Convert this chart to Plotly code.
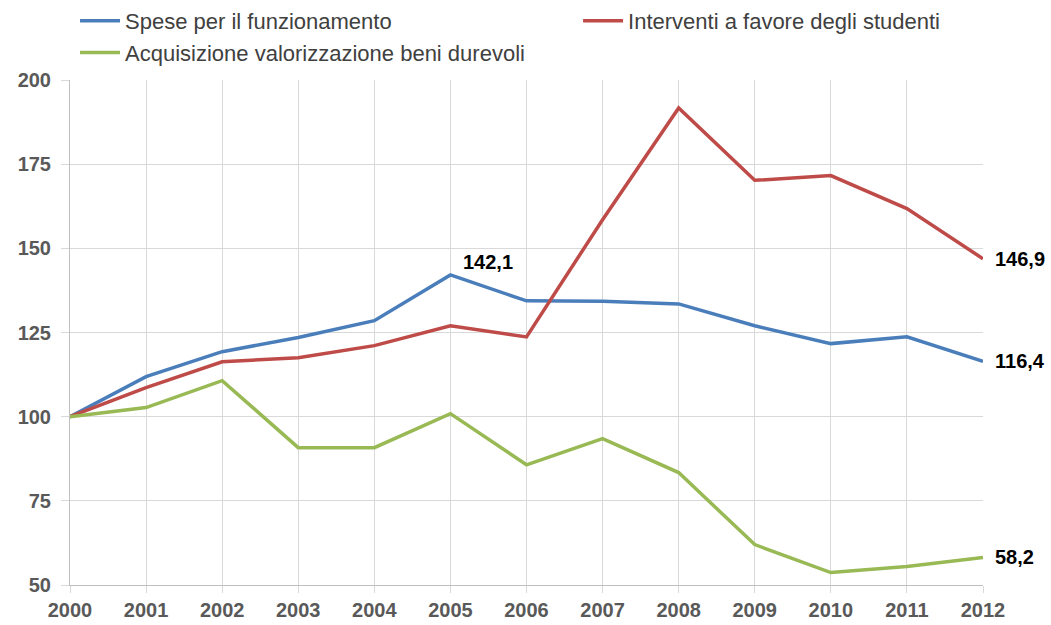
import plotly.graph_objects as go

years = list(range(2000, 2013))
spese = [100, 111.9, 119.3, 123.5, 128.5, 142.1, 134.4, 134.3, 133.5, 127.0, 121.7, 123.7, 116.4]
interventi = [100, 108.6, 116.3, 117.5, 121.1, 127.0, 123.7, 158.5, 191.7, 170.2, 171.6, 161.8, 146.9]
acquisizione = [100, 102.7, 110.7, 90.8, 90.8, 100.9, 85.7, 93.5, 83.4, 62.0, 53.7, 55.5, 58.2]
names = ["Spese per il funzionamento", "Interventi a favore degli studenti",
         "Acquisizione valorizzazione beni durevoli"]
colors = ["#4A7EBB", "#BE4B48", "#98B954"]
legend_ids = ["legend", "legend2", "legend"]
y_ticks = [50, 75, 100, 125, 150, 175, 200]

# which points get a value label: (series index, point index, xshift, yshift)
label_points = [(0, 5, 11, 13), (0, 12, 10, 0), (1, 12, 10, 0), (2, 12, 10, 0)]


def fmt(v):
    return f"{v:.1f}".replace(".", ",")


all_series = [spese, interventi, acquisizione]

fig = go.Figure()
for vals, name, col, lg in zip(all_series, names, colors, legend_ids):
    fig.add_trace(go.Scatter(
        x=years, y=vals, name=name, mode="lines",
        line=dict(color=col, width=3.5),
        cliponaxis=False, legend=lg,
    ))

for s, i, xs, ys in label_points:
    fig.add_annotation(
        x=years[i], y=all_series[s][i], text=fmt(all_series[s][i]),
        showarrow=False, xanchor="left", yanchor="middle", xshift=xs, yshift=ys,
        font=dict(family="Liberation Sans, Arial, sans-serif", size=20, color="#000000", weight="bold"),
    )

tickfont = dict(family="Liberation Sans, Arial, sans-serif", size=20, color="#595959", weight="bold")
legfont = dict(size=22, color="#404040", family="Liberation Sans, Arial, sans-serif")

fig.update_layout(
    width=1051, height=625,
    margin=dict(l=70, r=68, t=80, b=40, autoexpand=False),
    paper_bgcolor="white", plot_bgcolor="white",
    font=dict(family="Liberation Sans, Arial, sans-serif", size=20, color="#404040"),
    legend=dict(orientation="v", x=0.0055, xanchor="left", y=1.0, yanchor="top", yref="container",
                font=legfont, itemwidth=40, tracegroupgap=0, bgcolor="rgba(0,0,0,0)"),
    legend2=dict(orientation="v", x=0.5565, xanchor="left", y=1.0, yanchor="top", yref="container",
                 font=legfont, itemwidth=40, tracegroupgap=0, bgcolor="rgba(0,0,0,0)"),
    xaxis=dict(range=[2000, 2012], tickmode="array", tickvals=years, ticktext=[str(y) for y in years],
               showgrid=True, gridcolor="#D9D9D9", gridwidth=1,
               showline=True, linecolor="#BFBFBF", linewidth=1,
               ticks="outside", ticklen=7, tickcolor="#D9D9D9",
               tickfont=tickfont, zeroline=False, automargin=False),
    yaxis=dict(range=[50, 200], tickmode="array", tickvals=y_ticks,
               showgrid=True, gridcolor="#D9D9D9", gridwidth=1,
               showline=True, linecolor="#BFBFBF", linewidth=1,
               ticks="outside", ticklen=8, tickcolor="#D9D9D9", ticklabelstandoff=6,
               tickfont=tickfont, zeroline=False, automargin=False),
)

fig.write_html("out.html", config={"displayModeBar": False},
               post_script="document.body.style.margin='0';")
